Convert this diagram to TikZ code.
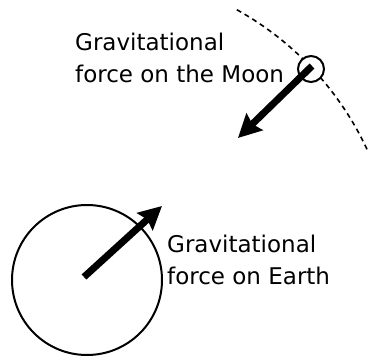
\documentclass[tikz,border=0pt]{standalone}
\usepackage{fontspec}
\setmainfont{DejaVu Sans}
\usetikzlibrary{arrows.meta}
\tikzset{
  forcearrow/.style={line width=7pt,-{Stealth[length=23pt,width=23pt,inset=3pt]}},
  lbl/.style={inner sep=0pt,align=left,anchor=base west,font=\fontsize{23}{32}\selectfont},
  orbit/.style={line width=1.6pt,dash pattern=on 5pt off 4pt}
}
\begin{document}
\begin{tikzpicture}[x=1pt,y=-1pt]
\useasboundingbox (0,0) rectangle (369,356);
\coordinate (earthc) at (87,280);
\draw[orbit] (earthc) ++(-61:309) arc[start angle=-61,end angle=-25,radius=309];
\node[draw,circle,line width=2pt,minimum size=150pt,inner sep=0pt] (earth) at (earthc) {};
\node[draw,circle,fill=white,line width=2pt,minimum size=26pt,inner sep=0pt] (moon) at (311,69) {};
\coordinate (es) at (84,277);
\coordinate (et) at (162,206);
\coordinate (ms) at (312,66);
\coordinate (mt) at (238,138);
\draw[forcearrow] (es) -- (et);
\draw[forcearrow] (ms) -- (mt);
\node[lbl] (moonlbl) at (75,82.5) {Gravitational\\force on the Moon};
\node[lbl] (earthlbl) at (167,284) {Gravitational\\force on Earth};
\end{tikzpicture}
\end{document}
